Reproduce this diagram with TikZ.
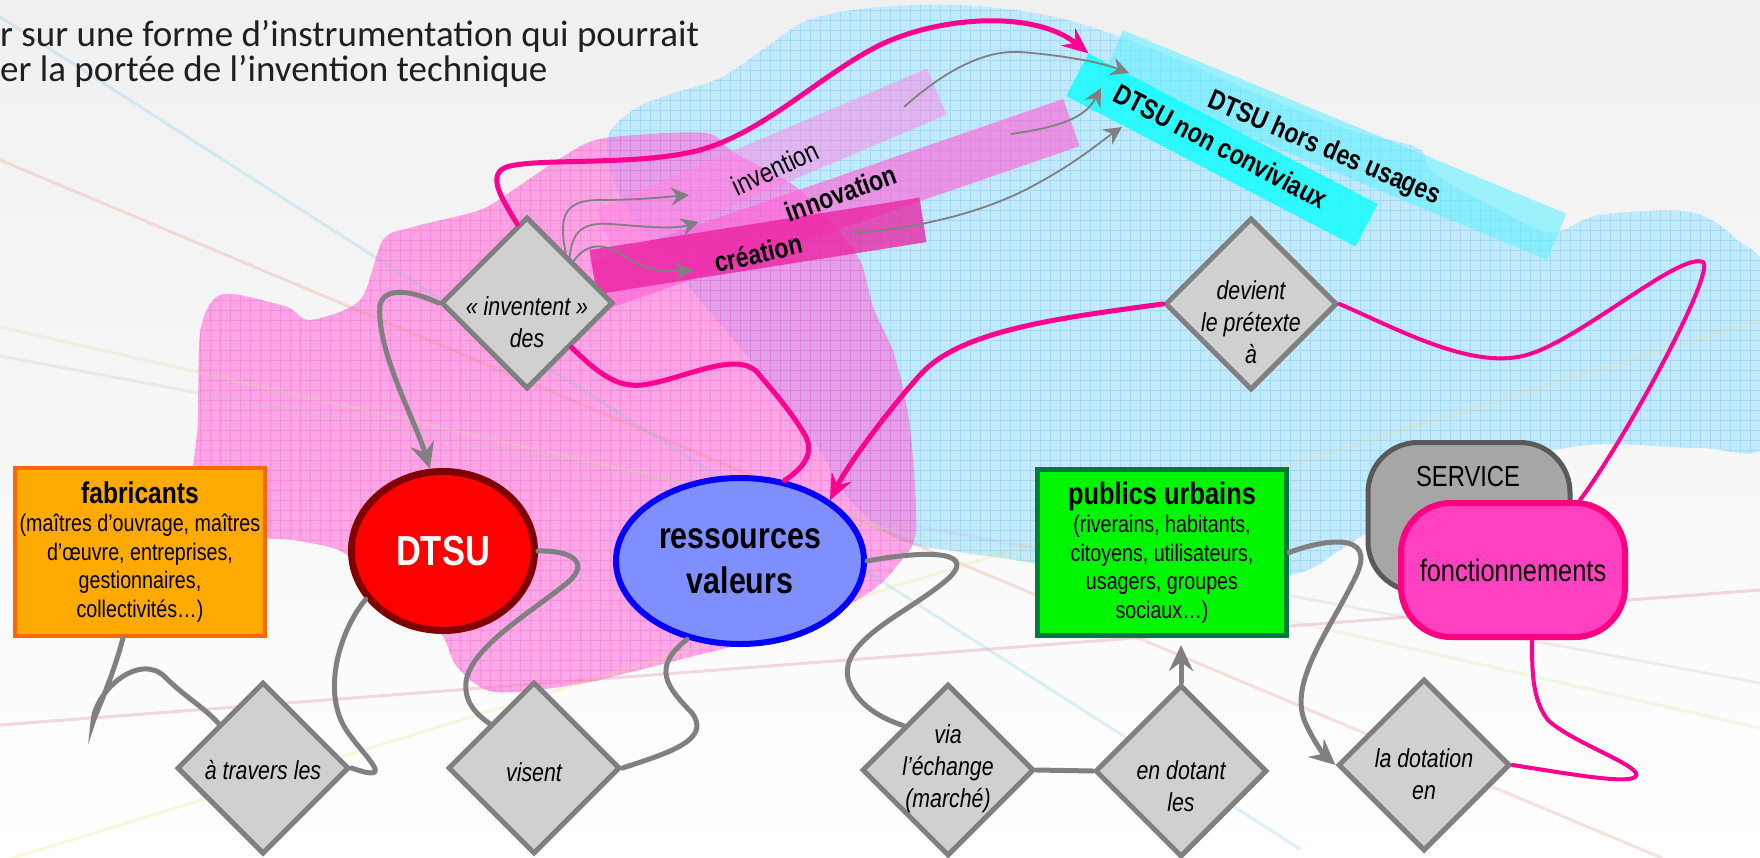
\documentclass[tikz,border=0pt]{standalone}
\usepackage{fontspec}
\setmainfont{Liberation Sans}
\newfontfamily\narrow[FakeStretch=0.82]{Liberation Sans}
\newfontfamily\titlefont{Carlito}
\usetikzlibrary{shapes.geometric,arrows.meta}

\definecolor{dfill}{RGB}{208,208,208}
\definecolor{gline}{RGB}{128,128,128}
\definecolor{pline}{RGB}{255,0,144}
\definecolor{fabfill}{RGB}{255,170,0}
\definecolor{fabdraw}{RGB}{255,102,0}
\definecolor{dtsufill}{RGB}{255,0,0}
\definecolor{dtsudraw}{RGB}{128,0,0}
\definecolor{ressfill}{RGB}{128,143,255}
\definecolor{ressdraw}{RGB}{0,0,255}
\definecolor{pubfill}{RGB}{0,245,0}
\definecolor{pubdraw}{RGB}{0,122,61}
\definecolor{servfill}{RGB}{166,166,166}
\definecolor{servdraw}{RGB}{90,90,90}
\definecolor{foncfill}{RGB}{255,64,192}
\definecolor{foncdraw}{RGB}{255,0,128}
\definecolor{bluefill}{RGB}{195,233,253}
\definecolor{bluegrid}{RGB}{140,205,245}
\definecolor{pinkfill}{RGB}{255,100,215}
\definecolor{pinkgrid}{RGB}{255,60,200}

\def\blueblob{plot[smooth cycle, tension=0.55] coordinates {(607,142) (630,112) (665,96) (720,78) (765,48) (808,20) (870,8) (960,5) (1060,18) (1160,52) (1260,95) (1350,130) (1418,148) (1432,172) (1490,205) (1550,232) (1600,215) (1690,212) (1735,238) (1768,280) (1768,440) (1700,448) (1590,445) (1480,470) (1367,533) (1340,550) (1290,575) (1150,585) (1033,563) (960,552) (900,540) (850,500) (800,420) (700,300) (625,205)}}
\def\pinkblob{plot[smooth cycle, tension=0.5] coordinates {(197,525) (198,420) (200,333) (213,300) (233,294) (287,307) (310,320) (360,300) (383,240) (413,227) (480,210) (513,190) (547,167) (587,143) (623,136) (706,133) (735,153) (800,190) (857,255) (873,307) (895,357) (910,427) (916,530) (900,562) (870,592) (800,630) (718,650) (631,672) (574,685) (494,692) (457,667) (440,633) (400,620) (350,557) (300,541)}}

\begin{document}
\begin{tikzpicture}[x=1pt,y=-1pt]
\tikzstyle{diam}=[diamond, draw=gline, fill=dfill, line width=5pt, minimum width=172pt, minimum height=172pt, inner sep=0pt]
\tikzstyle{dtext}=[font=\narrow\itshape\fontsize{26}{32}\selectfont, align=center, inner sep=0pt]
\tikzstyle{panel}=[rectangle, align=center, inner sep=0pt, font=\narrow\fontsize{24}{28.5}\selectfont]
\tikzstyle{ellip}=[ellipse, align=center, inner sep=0pt]
\tikzstyle{stripe}=[rectangle, inner sep=0pt, outer sep=0pt]
\tikzstyle{stripetext}=[font=\narrow\bfseries\fontsize{28}{28}\selectfont, inner sep=0pt]
\tikzstyle{conn}=[draw=gline, line width=5pt, line cap=round]
\tikzstyle{pconn}=[draw=pline, line width=5pt, line cap=round]
\tikzstyle{tconn}=[draw=gline, line width=1.8pt]
\tikzstyle{garrow}=[-{Stealth[length=26pt, width=24pt, inset=9pt]}]
\tikzstyle{parrow}=[-{Stealth[length=26pt, width=22pt, inset=9pt]}]
\tikzstyle{tarrow}=[-{Stealth[length=18pt, width=18pt, inset=6pt]}]

\useasboundingbox (0,0) rectangle (1760,858);
\shade[top color=black!6, bottom color=white] (0,0) rectangle (1760,858);

% background blobs
\fill[bluefill] \blueblob;
\begin{scope}
\clip \blueblob;
\draw[bluegrid, opacity=0.6, line width=0.7pt, step=10pt] (500,0) grid (1760,620);
\end{scope}
\fill[pinkfill, opacity=0.55] \pinkblob;
\begin{scope}
\clip \pinkblob;
\draw[pinkgrid, opacity=0.25, line width=0.7pt, step=10pt] (190,120) grid (920,700);
\end{scope}

% faint slide lines
\draw[line width=3pt, opacity=0.25, color={rgb,255:red,120;green,200;blue,230}] (0,17) -- (1300,849);
\draw[line width=3pt, opacity=0.25, color={rgb,255:red,230;green,140;blue,120}] (0,160) -- (1662,858);
\draw[line width=3pt, opacity=0.3, color={rgb,255:red,220;green,130;blue,165}] (0,725) -- (1760,590);
\draw[line width=3pt, opacity=0.25, color={rgb,255:red,240;green,225;blue,120}] (0,862) -- (1760,320);
\draw[line width=3pt, opacity=0.25, color={rgb,255:red,200;green,230;blue,160}] (0,327) -- (1760,728);
\draw[line width=3pt, opacity=0.25, color={rgb,255:red,200;green,190;blue,190}] (0,356) -- (1760,683);

% title
\node[anchor=base west, inner sep=0pt, text=black!88, font=\titlefont\fontsize{37}{37}\selectfont] (title1) at (0,47) {r sur une forme d’instrumentation qui pourrait};
\node[anchor=base west, inner sep=0pt, text=black!88, font=\titlefont\fontsize{37}{37}\selectfont] (title2) at (0,82) {er la portée de l’invention technique};

% stripes
\node[stripe, fill={rgb,255:red,255;green,130;blue,225}, opacity=0.5, minimum width=360, minimum height=50, rotate=23] (barinv) at (771,162) {};
\node[stripe, fill={rgb,255:red,255;green,100;blue,215}, opacity=0.65, minimum width=500, minimum height=50, rotate=19] (barinno) at (835,204) {};
\node[stripe, fill={rgb,255:red,235;green,30;blue,160}, opacity=0.75, minimum width=334, minimum height=45, rotate=9] (barcre) at (758,246) {};
\node[stripe, fill={rgb,255:red,100;green,240;blue,255}, opacity=0.6, minimum width=480, minimum height=50, rotate=-22.5] (barhors) at (1335,145) {};
\node[stripe, fill={rgb,255:red,0;green,255;blue,255}, opacity=0.75, minimum width=326, minimum height=48, rotate=-27.5] (barconv) at (1222,150) {};

\node[stripetext, rotate=25, font=\narrow\mdseries\fontsize{28}{28}\selectfont] (invtxt) at (775,168) {invention};
\node[stripetext, rotate=20] (innotxt) at (841,193) {innovation};
\node[stripetext, rotate=13] (cretxt) at (758,253) {création};
\node[stripetext, rotate=-23] (horstxt) at (1324,149) {DTSU hors des usages};
\node[stripetext, rotate=-27.7] (convtxt) at (1221,146) {DTSU non conviviaux};

% main nodes
\node[panel, fill=fabfill, draw=fabdraw, line width=4pt, minimum width=250, minimum height=168] (fab) at (140,552)
  {{\fontsize{30}{31}\selectfont\bfseries fabricants}\\(maîtres d’ouvrage, maîtres\\d’œuvre, entreprises,\\gestionnaires,\\collectivités…)};
\node[ellip, fill=dtsufill, draw=dtsudraw, line width=7pt, minimum width=183, minimum height=159, text=white, font=\narrow\bfseries\fontsize{42}{42}\selectfont] (dtsu) at (443,551) {DTSU};
\node[ellip, fill=ressfill, draw=ressdraw, line width=6pt, minimum width=248, minimum height=166, font=\narrow\bfseries\fontsize{37}{45}\selectfont] (ress) at (740,561) {ressources\\valeurs};
\node[panel, fill=pubfill, draw=pubdraw, line width=5pt, minimum width=249, minimum height=166] (pub) at (1162,552.5)
  {{\fontsize{31}{31}\selectfont\bfseries publics urbains}\\(riverains, habitants,\\citoyens, utilisateurs,\\usagers, groupes\\sociaux…)};
\node[rectangle, rounded corners=50pt, fill=servfill, draw=servdraw, line width=5pt, minimum width=202, minimum height=149] (serv) at (1469,517) {};
\node[inner sep=0pt, font=\narrow\fontsize{29}{29}\selectfont] (servtxt) at (1468,477) {SERVICE};
\node[rectangle, rounded corners=50pt, fill=foncfill, draw=foncdraw, line width=6pt, minimum width=224, minimum height=134, inner sep=0pt, font=\narrow\fontsize{31}{31}\selectfont] (fonc) at (1513,570) {fonctionnements};

% diamonds
\node[diam] (inv) at (527,303) {};
\node[dtext] (invt) at (527,322) {« inventent »\\des};
\node[diam] (dev) at (1251,304) {};
\node[dtext] (devt) at (1251,322) {devient\\le prétexte\\à};
\node[diam] (trav) at (263,768) {};
\node[dtext] (travt) at (263,770) {à travers les};
\node[diam] (vis) at (534,768) {};
\node[dtext] (vist) at (534,772) {visent};
\node[diam] (via) at (948,770) {};
\node[dtext] (viat) at (948,769) {via\\l’échange\\(marché)};
\node[diam] (dot) at (1181,771) {};
\node[dtext] (dott) at (1181,786) {en dotant\\les};
\node[diam] (ldot) at (1424,765) {};
\node[dtext] (ldott) at (1424,774) {la dotation\\en};

% gray connectors
\draw[conn, garrow] (inv.west) .. controls (415,292) and (385,285) .. (380,305) .. controls (376,350) and (415,420) .. (dtsu.99);
\draw[conn] ([xshift=-17pt]fab.south) .. controls (112,680) and (95,715) .. (93,722) .. controls (95,690) and (140,652) .. (165,677) .. controls (185,697) and (205,708) .. (trav.135);
\draw[conn] (dtsu.212) .. controls (340,630) and (322,690) .. (345,728) .. controls (362,755) and (400,785) .. (trav.east);
\draw[conn] (dtsu.east) .. controls (570,550) and (592,562) .. (567,583) .. controls (530,613) and (470,648) .. (466,682) .. controls (464,702) and (476,714) .. (vis.135);
\draw[conn] (vis.east) .. controls (668,753) and (712,740) .. (692,713) .. controls (668,688) and (650,668) .. (ress.236);
\draw[conn] (ress.east) .. controls (915,552) and (978,548) .. (950,577) .. controls (912,612) and (835,640) .. (849,682) .. controls (858,705) and (880,718) .. (via.135);
\draw[conn] (via.east) -- (dot.west);
\draw[conn, garrow, shorten >=7pt] (dot.north) -- (dot.north |- pub.south);
\draw[conn, garrow] (pub.east) .. controls (1322,540) and (1378,530) .. (1356,576) .. controls (1330,630) and (1288,682) .. (1305,722) .. controls (1314,742) and (1324,755) .. (ldot.west);

% pink connectors
\draw[pconn, parrow] (inv.97) .. controls (500,196) and (485,172) .. (510,166) .. controls (545,158) and (640,166) .. (700,150) .. controls (765,132) and (820,75) .. (880,45) .. controls (940,16) and (1035,10) .. (barconv.north west);
\draw[pconn] (inv.315) .. controls (595,370) and (615,388) .. (642,385) .. controls (682,380) and (735,350) .. (757,372) .. controls (772,390) and (792,412) .. (806,437) .. controls (815,456) and (800,470) .. (ress.61);
\draw[pconn, parrow] (dev.west) .. controls (1060,318) and (960,330) .. (920,375) .. controls (880,420) and (845,470) .. (ress.34);
\draw[pconn, line width=4pt] (dev.east) .. controls (1400,330) and (1475,372) .. (1530,354) .. controls (1585,336) and (1680,252) .. (1703,262) .. controls (1716,272) and (1625,440) .. ([xshift=67pt]fonc.north);
\draw[pconn, line width=4pt] ([xshift=19pt]fonc.south) .. controls (1532,670) and (1532,700) .. (1548,720) .. controls (1570,742) and (1648,768) .. (1635,777) .. controls (1625,784) and (1570,774) .. (ldot.east);

% thin arrows
\coordinate (tinv) at (689,195);
\coordinate (tinno) at (699,222);
\coordinate (tcre) at (693,270);
\draw[tconn, tarrow] (inv.52) .. controls (558,215) and (565,200) .. (600,200) .. controls (640,200) and (665,197) .. (tinv);
\draw[tconn, tarrow] (inv.47) .. controls (572,232) and (582,222) .. (610,224) .. controls (640,226) and (672,230) .. (tinno);
\draw[tconn, tarrow] (inv.42) .. controls (585,245) and (602,240) .. (625,257) .. controls (645,270) and (665,272) .. (tcre);
\coordinate (sinv) at (904,107);
\coordinate (sinno) at (1011,134);
\coordinate (scre) at (854,233);
\coordinate (tconv1) at (1129,73);
\coordinate (tconv2) at (1101,88);
\coordinate (tconv3) at (1122,127);
\draw[tconn, tarrow] (sinv) .. controls (940,75) and (980,50) .. (1020,52) .. controls (1060,55) and (1100,62) .. (tconv1);
\draw[tconn, tarrow] (sinno) .. controls (1060,127) and (1085,118) .. (tconv2);
\draw[tconn, tarrow] (scre) .. controls (940,226) and (1000,205) .. (1040,182) .. controls (1080,160) and (1100,142) .. (tconv3);
\end{tikzpicture}
\end{document}
